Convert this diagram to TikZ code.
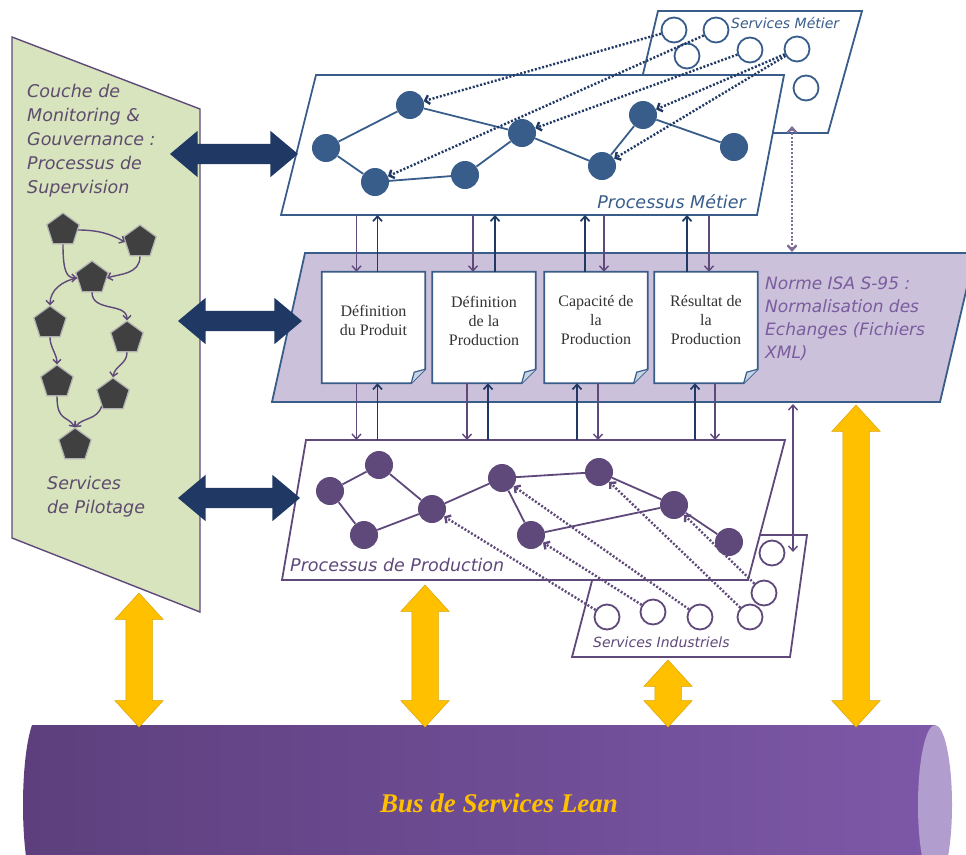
\documentclass[tikz,border=0pt]{standalone}
\usepackage{fontspec}
\usetikzlibrary{arrows.meta,shapes.geometric,shapes.arrows}

\newfontfamily\handfont{DejaVu Sans}
\newfontfamily\docfont{Liberation Serif}

\definecolor{mblue}{HTML}{385D8A}
\definecolor{mnavy}{HTML}{1F3864}
\definecolor{mpurple}{HTML}{5F497A}
\definecolor{mgreen}{HTML}{D7E4BD}
\definecolor{mlilac}{HTML}{CCC1DA}
\definecolor{mgold}{HTML}{FFC000}
\definecolor{mhand}{HTML}{5E4B6E}
\definecolor{mnorm}{HTML}{7B5C9E}
\definecolor{mfold}{HTML}{C6D4E6}
\definecolor{buslo}{HTML}{5D3F7D}
\definecolor{bushi}{HTML}{7D58A8}
\definecolor{buscap}{HTML}{B29DCF}

\tikzset{
  bpanel/.style={draw=mblue, fill=white, line width=1.8pt},
  ppanel/.style={draw=mpurple, fill=white, line width=1.8pt},
  hand/.style={font=\handfont\itshape\fontsize{17.5}{24}\selectfont, text=mhand, align=left, inner sep=0pt},
  small hand/.style={font=\handfont\itshape\fontsize{14}{16}\selectfont, inner sep=0pt},
  bnode/.style={circle, fill=mblue, minimum size=28pt, inner sep=0pt},
  pnode/.style={circle, fill=mpurple, minimum size=28pt, inner sep=0pt},
  bserv/.style={circle, draw=mblue, fill=white, line width=1.8pt, minimum size=25pt, inner sep=0pt},
  pserv/.style={circle, draw=mpurple, fill=white, line width=1.8pt, minimum size=25pt, inner sep=0pt},
  bedge/.style={mblue, line width=1.8pt},
  pedge/.style={mpurple, line width=1.8pt},
  bdots/.style={mnavy, line width=2.4pt, dash pattern=on 2pt off 1.8pt, -{Straight Barb[length=4pt,width=9pt]}},
  pdots/.style={mpurple, line width=2.4pt, dash pattern=on 2pt off 1.8pt, -{Straight Barb[length=4pt,width=9pt]}},
  pent/.style={regular polygon, regular polygon sides=5, fill=black!75, draw=black!30, line width=1.2pt, minimum size=34pt, inner sep=0pt},
  parr/.style={mpurple, line width=1.4pt, -{Straight Barb[length=4pt,width=8pt]}},
  pdown/.style={mpurple, line width=1.4pt, -{Straight Barb[length=5pt,width=9pt]}},
  nup/.style={mnavy, line width=1.7pt, -{Straight Barb[length=5pt,width=9pt]}},
  docbox/.style={minimum width=103pt, minimum height=111pt, inner sep=0pt},
  doctext/.style={font=\docfont\fontsize{16}{19}\selectfont, text=black!80, align=center},
  navyarr/.style={double arrow, fill=mnavy, inner xsep=0pt, inner ysep=10pt, double arrow head extend=13pt, double arrow tip angle=80},
  goldarr/.style={double arrow, shape border rotate=90, fill=mgold, draw=mgold!85!black, line width=0.5pt, inner xsep=13pt, inner ysep=0pt, double arrow head extend=11pt, double arrow tip angle=85},
}

\begin{document}
\begin{tikzpicture}[x=1pt,y=-1pt]
  \useasboundingbox (0,0) rectangle (966,854);
  \clip (0,0) rectangle (966,854);

  % bus
  \shade[left color=buslo, right color=bushi] (935,725) -- (32,725)
    .. controls (20,760) and (20,850) .. (32,885) -- (935,885) -- cycle;
  \fill[buscap] (935,805) ellipse (17 and 80);
  \node[font=\docfont\bfseries\itshape\fontsize{27}{30}\selectfont, text=mgold] (bus) at (499,803) {Bus de Services Lean};

  % layers
  \filldraw[bpanel] (658,11) -- (862,11) -- (828,133) -- (629,133) -- cycle;
  \filldraw[bpanel] (316,75) -- (784,75) -- (757,215) -- (281,215) -- cycle;
  \filldraw[bpanel, fill=mlilac] (305,253) -- (975,253) -- (940,402) -- (272,402) -- cycle;
  \filldraw[ppanel] (604,535) -- (807,535) -- (790,657) -- (572,657) -- cycle;
  \filldraw[ppanel] (306,440) -- (785,440) -- (748,580) -- (282,580) -- cycle;
  \filldraw[fill=mgreen, draw=mpurple, line width=1.4pt] (12,37) -- (200,109) -- (200,612) -- (12,538) -- cycle;

  \coordinate (pmbot) at (0,215);
  \coordinate (prtop) at (0,440);

  % supervision
  \node[hand, anchor=north west] (mon) at (27,84) {Couche de\\Monitoring \&\\Gouvernance :\\Processus de\\Supervision};
  \node[hand, anchor=north west] (pil) at (47,476) {Services\\de Pilotage};
  \node[pent] (p1) at (63,230) {};
  \node[pent] (p2) at (140,242) {};
  \node[pent] (p3) at (92,278) {};
  \node[pent] (p4) at (50,323) {};
  \node[pent] (p5) at (127,338) {};
  \node[pent] (p6) at (57,382) {};
  \node[pent] (p7) at (113,395) {};
  \node[pent] (p8) at (75,445) {};
  \draw[parr] (p1.east) .. controls +(20,0) and +(-14,-8) .. (p2.west);
  \draw[parr] (p1.south) .. controls +(0,28) and +(-10,0) .. (p3.west);
  \draw[parr] (p2.south) .. controls +(0,18) and +(12,-4) .. (p3.east);
  \draw[parr] (p3.west) .. controls +(-15,3) and +(0,-15) .. (p4.north);
  \draw[parr] (p3.south) .. controls +(0,20) and +(0,-18) .. (p5.north);
  \draw[parr] (p4.south) .. controls +(0,10) and +(0,-10) .. (p6.north);
  \draw[parr] (p5.south) .. controls +(0,12) and +(2,-12) .. (p7.north);
  \draw[parr] (p6.south) .. controls +(0,25) and +(-8,-12) .. (p8.north);
  \draw[parr] (p7.south west) .. controls +(-5,14) and +(8,-10) .. (p8.north);

  % processus metier
  \node[small hand, text=mblue, anchor=west] (smt) at (731,23) {Services Métier};
  \foreach \n/\x/\y in {c1/674/30, c2/716/30, c3/687/56, c4/750/50, c5/797/49, c6/806/88}
    \node[bserv] (\n) at (\x,\y) {};
  \node[hand, text=mblue, anchor=south east] (pmt) at (746,209) {Processus Métier};
  \foreach \n/\x/\y in {n1/326/148, n2/410/105, n3/375/182, n4/465/175, n5/522/133, n6/602/166, n7/643/115, n8/734/147}
    \node[bnode] (\n) at (\x,\y) {};
  \foreach \a/\b in {n1/n2, n1/n3, n3/n4, n4/n5, n2/n5, n5/n6, n6/n7, n7/n8}
    \draw[bedge] (\a) -- (\b);

  % ISA S-95
  \node[docbox] (dA) at (373.5,327.5) {};
  \node[docbox] (dB) at (484,327.5) {};
  \node[docbox] (dC) at (596,327.5) {};
  \node[docbox] (dD) at (706,327.5) {};
  \foreach \d in {dA,dB,dC,dD}{
    \filldraw[draw=mblue, fill=white, line width=1.8pt] (\d.north west) -- (\d.north east)
      -- ([yshift=14pt]\d.south east) -- ([xshift=-14pt]\d.south east) -- (\d.south west) -- cycle;
    \filldraw[draw=mblue, fill=mfold, line width=1.2pt] ([yshift=14pt]\d.south east)
      -- ([xshift=-11pt,yshift=11pt]\d.south east) -- ([xshift=-14pt]\d.south east);
  }
  \node[doctext] (dAt) at ([yshift=7pt]dA.center) {Définition\\du Produit};
  \node[doctext] (dBt) at ([yshift=7pt]dB.center) {Définition\\de la\\Production};
  \node[doctext] (dCt) at ([yshift=7pt]dC.center) {Capacité de\\la\\Production};
  \node[doctext] (dDt) at ([yshift=7pt]dD.center) {Résultat de\\la\\Production};
  \node[hand, text=mnorm, anchor=north west, font=\handfont\itshape\fontsize{17}{23}\selectfont] (isa) at (765,277)
    {Norme ISA S-95 :\\Normalisation des\\Echanges (Fichiers\\XML)};

  % metier <-> ISA
  \draw[pdown] ([xshift=-17pt]dA.north |- pmbot) -- ([xshift=-17pt]dA.north);
  \draw[nup] ([xshift=4pt]dA.north) -- ([xshift=4pt]dA.north |- pmbot);
  \draw[pdown] ([xshift=-11pt]dB.north |- pmbot) -- ([xshift=-11pt]dB.north);
  \draw[nup] ([xshift=11pt]dB.north) -- ([xshift=11pt]dB.north |- pmbot);
  \draw[nup] ([xshift=-11pt]dC.north) -- ([xshift=-11pt]dC.north |- pmbot);
  \draw[pdown] ([xshift=8pt]dC.north |- pmbot) -- ([xshift=8pt]dC.north);
  \draw[nup] ([xshift=-19pt]dD.north) -- ([xshift=-19pt]dD.north |- pmbot);
  \draw[pdown] ([xshift=3pt]dD.north |- pmbot) -- ([xshift=3pt]dD.north);

  % ISA <-> production
  \draw[pdown] ([xshift=-17pt]dA.south) -- ([xshift=-17pt]dA.south |- prtop);
  \draw[nup] ([xshift=4pt]dA.south |- prtop) -- ([xshift=4pt]dA.south);
  \draw[pdown] ([xshift=-17pt]dB.south) -- ([xshift=-17pt]dB.south |- prtop);
  \draw[nup] ([xshift=4pt]dB.south |- prtop) -- ([xshift=4pt]dB.south);
  \draw[nup] ([xshift=-19pt]dC.south |- prtop) -- ([xshift=-19pt]dC.south);
  \draw[pdown] ([xshift=2pt]dC.south) -- ([xshift=2pt]dC.south |- prtop);
  \draw[nup] ([xshift=-11pt]dD.south |- prtop) -- ([xshift=-11pt]dD.south);
  \draw[pdown] ([xshift=9pt]dD.south) -- ([xshift=9pt]dD.south |- prtop);

  % production
  \node[small hand, text=mpurple, anchor=west] (sit) at (593,642) {Services Industriels};
  \foreach \n/\x/\y in {s1/607/617, s2/653/612, s3/700/617, s4/750/617, s5/764/593, s6/772/553}
    \node[pserv] (\n) at (\x,\y) {};
  \node[hand, text=mpurple, anchor=west] (prt) at (290,565) {Processus de Production};
  \foreach \n/\x/\y in {m1/330/491, m2/379/465, m3/364/535, m4/432/509, m5/502/478, m6/531/535, m7/599/472, m8/674/505, m9/729/542}
    \node[pnode] (\n) at (\x,\y) {};
  \foreach \a/\b in {m1/m2, m1/m3, m2/m4, m3/m4, m4/m5, m5/m6, m5/m7, m6/m8, m7/m8, m8/m9}
    \draw[pedge] (\a) -- (\b);

  % services -> processus
  \draw[bdots] (c1) -- (n2);
  \draw[bdots] (c2) -- (n3);
  \draw[bdots] (c4) -- (n5);
  \draw[bdots] (c5) -- (n7);
  \draw[bdots] (c5) -- (n6);
  \draw[pdots] (s1) -- (m4);
  \draw[pdots] (s2) -- (m6);
  \draw[pdots] (s3) -- (m5);
  \draw[pdots] (s4) -- (m7);
  \draw[pdots] (s5) -- (m8);

  % ISA <-> services
  \coordinate (smbot) at (792,126);
  \coordinate (isatop) at (792,252);
  \coordinate (isabot) at (793,404);
  \coordinate (sitop) at (793,552);
  \draw[mpurple!80, line width=2.4pt, dash pattern=on 2pt off 1.8pt, {Straight Barb[length=5pt,width=9pt]}-{Straight Barb[length=5pt,width=9pt]}] (isatop) -- (smbot);
  \draw[mpurple, line width=1.4pt, {Straight Barb[length=5pt,width=9pt]}-{Straight Barb[length=5pt,width=9pt]}] (isabot) -- (sitop);

  % supervision arrows
  \node[navyarr, minimum height=128pt] (a1) at (234,154) {};
  \node[navyarr, minimum height=124pt] (a2) at (240,321) {};
  \node[navyarr, minimum height=122pt] (a3) at (239,498) {};

  % bus arrows
  \node[goldarr, minimum height=134pt] (y1) at (139,660) {};
  \node[goldarr, minimum height=142pt] (y2) at (425,656) {};
  \node[goldarr, minimum height=67pt] (y3) at (668,693.5) {};
  \node[goldarr, minimum height=322pt] (y4) at (856,566) {};
\end{tikzpicture}
\end{document}
